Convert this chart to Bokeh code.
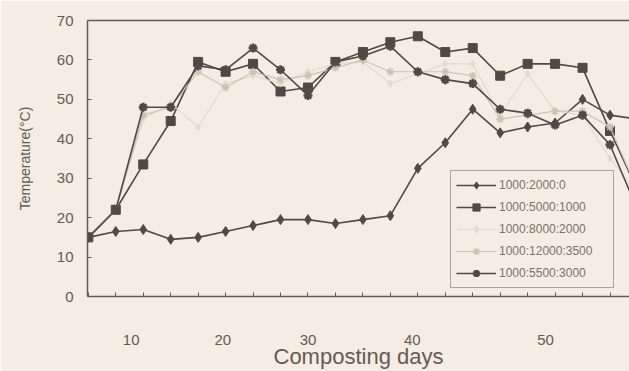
from bokeh.plotting import figure
from bokeh.models import Range1d, FixedTicker, LinearAxis, Legend, LegendItem
from bokeh.embed import file_html
from bokeh.resources import INLINE

# ---- data ----
sample_index = list(range(21))
series_names = ["1000:2000:0", "1000:5000:1000", "1000:8000:2000",
                "1000:12000:3500", "1000:5500:3000"]
temp_a = [15, 16.5, 17, 14.5, 15, 16.5, 18, 19.5, 19.5, 18.5, 19.5, 20.5,
          32.5, 39, 47.5, 41.5, 43, 44, 50, 46, 45]
temp_b = [15, 22, 33.5, 44.5, 59.5, 57, 59, 52, 53, 59.5, 62, 64.5,
          66, 62, 63, 56, 59, 59, 58, 42, 27]
temp_c = [15, 22, 45, 49, 43, 54, 56, 54, 57, 59, 59.5, 54,
          56.5, 59, 59, 46, 56.5, 47, 46, 35, 26]
temp_d = [15, 22, 46, 48, 57, 53, 57, 55, 56, 58, 60, 57,
          57, 57, 56, 45, 46, 47, 47, 43, 27]
temp_e = [15, 22, 48, 48, 58.5, 57.5, 63, 57.5, 51, 59.5, 61, 63.5,
          57, 55, 54, 47.5, 46.5, 43.5, 46, 38.5, 22]
x_tick_positions = [1.56, 4.9, 8.0, 11.8, 16.65]
x_tick_labels = ["10", "20", "30", "40", "50"]
y_ticks = [0, 10, 20, 30, 40, 50, 60, 70]

BG = "#f5ece3"
DARK = "#4f4a45"
AX = "#625c56"
FONT = "Liberation Sans"

p = figure(width=629, height=371, output_backend="svg", toolbar_location=None,
           x_range=Range1d(-0.03, 19.71), y_range=Range1d(0, 70),
           min_border_left=87, min_border_top=20, min_border_bottom=75,
           min_border_right=0, background_fill_color=BG, border_fill_color=BG,
           outline_line_color=None)
p.grid.visible = False

# bottom axis
xa = p.xaxis[0]
xa.ticker = FixedTicker(ticks=x_tick_positions, minor_ticks=sample_index)
xa.major_label_overrides = {t: l for t, l in zip(x_tick_positions, x_tick_labels)}
xa.major_tick_line_color = None
xa.minor_tick_in = 4
xa.minor_tick_out = 0
xa.minor_tick_line_color = AX
xa.axis_line_color = AX
xa.axis_line_width = 1.5
xa.major_label_standoff = 32
xa.major_label_text_font = FONT
xa.major_label_text_font_size = "15px"
xa.major_label_text_color = AX
xa.axis_label = "Composting days"
xa.axis_label_text_font = FONT
xa.axis_label_text_font_size = "22px"
xa.axis_label_text_font_style = "normal"
xa.axis_label_text_color = AX
xa.axis_label_standoff = -4

# left axis
ya = p.yaxis[0]
ya.ticker = FixedTicker(ticks=y_ticks)
ya.major_tick_in = 4
ya.major_tick_out = 0
ya.minor_tick_line_color = None
ya.major_tick_line_color = AX
ya.axis_line_color = AX
ya.axis_line_width = 1.5
ya.major_label_standoff = 14
ya.major_label_text_font = FONT
ya.major_label_text_font_size = "15px"
ya.major_label_text_color = AX
ya.axis_label = "Temperature(\u00b0C)"
ya.axis_label_text_font = FONT
ya.axis_label_text_font_size = "14px"
ya.axis_label_text_font_style = "normal"
ya.axis_label_text_color = AX
ya.axis_label_standoff = 21

# top border line
top = LinearAxis(ticker=FixedTicker(ticks=[]), major_label_text_font_size="0px",
                 major_tick_line_color=None, minor_tick_line_color=None,
                 axis_line_color=AX, axis_line_width=1.5)
p.add_layout(top, "above")

styles = [
    (temp_a, DARK, "diamond", 10, 1.6, 1),
    (temp_b, DARK, "square", 9, 1.6, 1),
    (temp_c, "#e3dad0", "diamond", 7, 1.2, 1),
    (temp_d, "#cbc2b8", "asterisk", 8, 1.2, 1.5),
    (temp_e, DARK, "asterisk", 9, 1.6, 2.5),
]
items = []
for name, (vals, col, mk, sz, lw, mlw) in zip(series_names, styles):
    r1 = p.line(sample_index, vals, line_color=col, line_width=lw)
    r2 = p.scatter(sample_index, vals, marker=mk, size=sz, fill_color=col,
                   line_color=col, line_width=mlw)
    items.append(LegendItem(label=name, renderers=[r1, r2]))

legend = Legend(items=items, location=(363, 8), border_line_color=AX,
                border_line_width=1, background_fill_color=BG,
                background_fill_alpha=1, padding=5, spacing=4,
                glyph_height=18, glyph_width=40, label_height=18,
                label_standoff=3, label_text_font=FONT,
                label_text_font_size="12px", label_text_color="#7a736c",
                label_width=109, margin=0)
p.add_layout(legend, "center")

html = file_html(p, INLINE)
html = html.replace("<body>", '<body style="background:%s">' % BG, 1)
open("out.html", "w").write(html)
